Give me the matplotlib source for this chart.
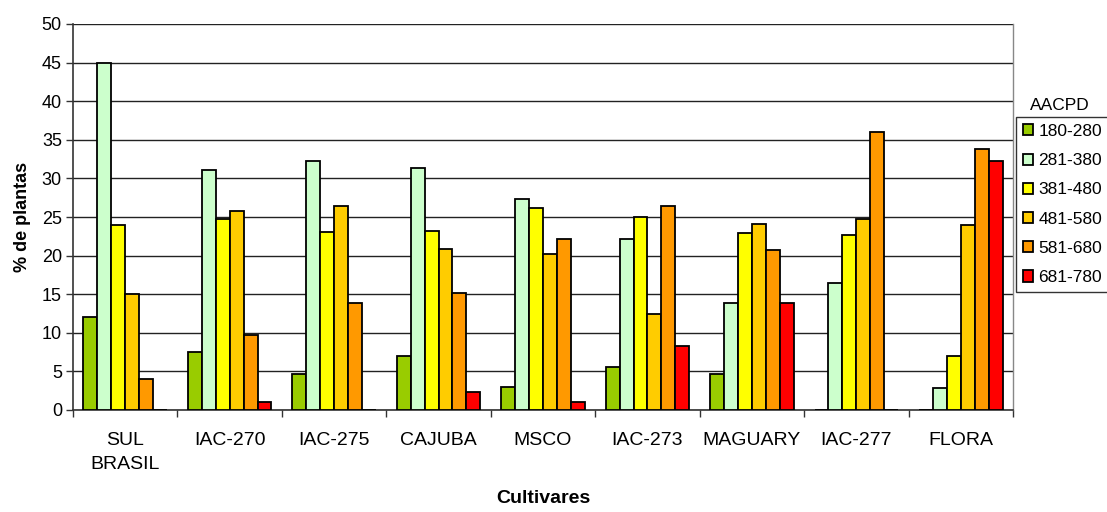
import matplotlib
matplotlib.use("Agg")
import matplotlib.pyplot as plt
import numpy as np

plt.rcParams['font.family'] = ['Liberation Sans', 'DejaVu Sans']

categories = ["SUL\nBRASIL", "IAC-270", "IAC-275", "CAJUBA", "MSCO", "IAC-273", "MAGUARY", "IAC-277", "FLORA"]
series_names = ["180-280", "281-380", "381-480", "481-580", "581-680", "681-780"]
s180 = [12.0, 7.5, 4.6, 7.0, 3.0, 5.6, 4.6, 0.0, 0.0]
s281 = [45.0, 31.1, 32.2, 31.4, 27.3, 22.2, 13.8, 16.5, 2.8]
s381 = [24.0, 24.7, 23.0, 23.2, 26.2, 25.0, 22.9, 22.7, 7.0]
s481 = [15.0, 25.8, 26.4, 20.9, 20.2, 12.4, 24.1, 24.8, 24.0]
s581 = [4.0, 9.7, 13.8, 15.1, 22.2, 26.4, 20.7, 36.0, 33.8]
s681 = [0.0, 1.0, 0.0, 2.3, 1.0, 8.3, 13.8, 0.0, 32.3]
colors = ["#99CC00", "#CCFFCC", "#FFFF00", "#FFCC00", "#FF9900", "#FF0000"]

data = [s180, s281, s381, s481, s581, s681]

fig = plt.figure(figsize=(11.07, 5.12), dpi=100)
ax = fig.add_axes([73/1107, 1 - 410/512, (1013-73)/1107, (410-24)/512])

n = len(categories)
x = np.arange(n)
bw = 0.8 / 6
handles = []
for i, (vals, c, name) in enumerate(zip(data, colors, series_names)):
    h = ax.bar(x - 0.4 + bw * (i + 0.5), vals, width=bw, color=c, edgecolor="black",
               linewidth=1.3, label=name, zorder=3)
    handles.append(h)

ax.set_xlim(-0.5, n - 0.5)
ax.set_ylim(0, 50)
ax.set_yticks(np.arange(0, 51, 5))
ax.yaxis.grid(True, color="#222222", linewidth=1.0, zorder=0)
ax.tick_params(axis="y", direction="out", length=5, labelsize=13, width=1, color="#333333", pad=3)

ax.set_xticks(np.arange(-0.5, n, 1.0))
ax.set_xticklabels([])
ax.set_xticks(x, minor=True)
ax.set_xticklabels(categories, minor=True, fontsize=14, linespacing=1.55)
ax.tick_params(axis="x", which="major", direction="out", length=5, width=1, color="#333333")
ax.tick_params(axis="x", which="minor", length=0, pad=16)

for s in ["left", "bottom"]:
    ax.spines[s].set_color("#333333")
    ax.spines[s].set_linewidth(1.2)
ax.spines["top"].set_visible(False)
ax.spines["right"].set_color("#888888")
ax.spines["right"].set_linewidth(1.0)

ax.set_ylabel("% de plantas", fontsize=13, fontweight="bold", labelpad=8)
ax.set_xlabel("Cultivares", fontsize=14, fontweight="bold", labelpad=12)

leg = fig.legend(handles=handles, labels=series_names, loc="upper left",
                 bbox_to_anchor=(1016/1107, 1 - 117/512), fontsize=12.5,
                 frameon=True, fancybox=False, edgecolor="black",
                 handlelength=0.6, handleheight=0.6, handletextpad=0.3,
                 labelspacing=0.82, borderpad=0.4, borderaxespad=0)
leg.get_frame().set_linewidth(1.0)
fig.text(1060/1107, 1 - 105/512, "AACPD", fontsize=12.5, ha="center", va="center")

fig.savefig("out.png", dpi=100)
